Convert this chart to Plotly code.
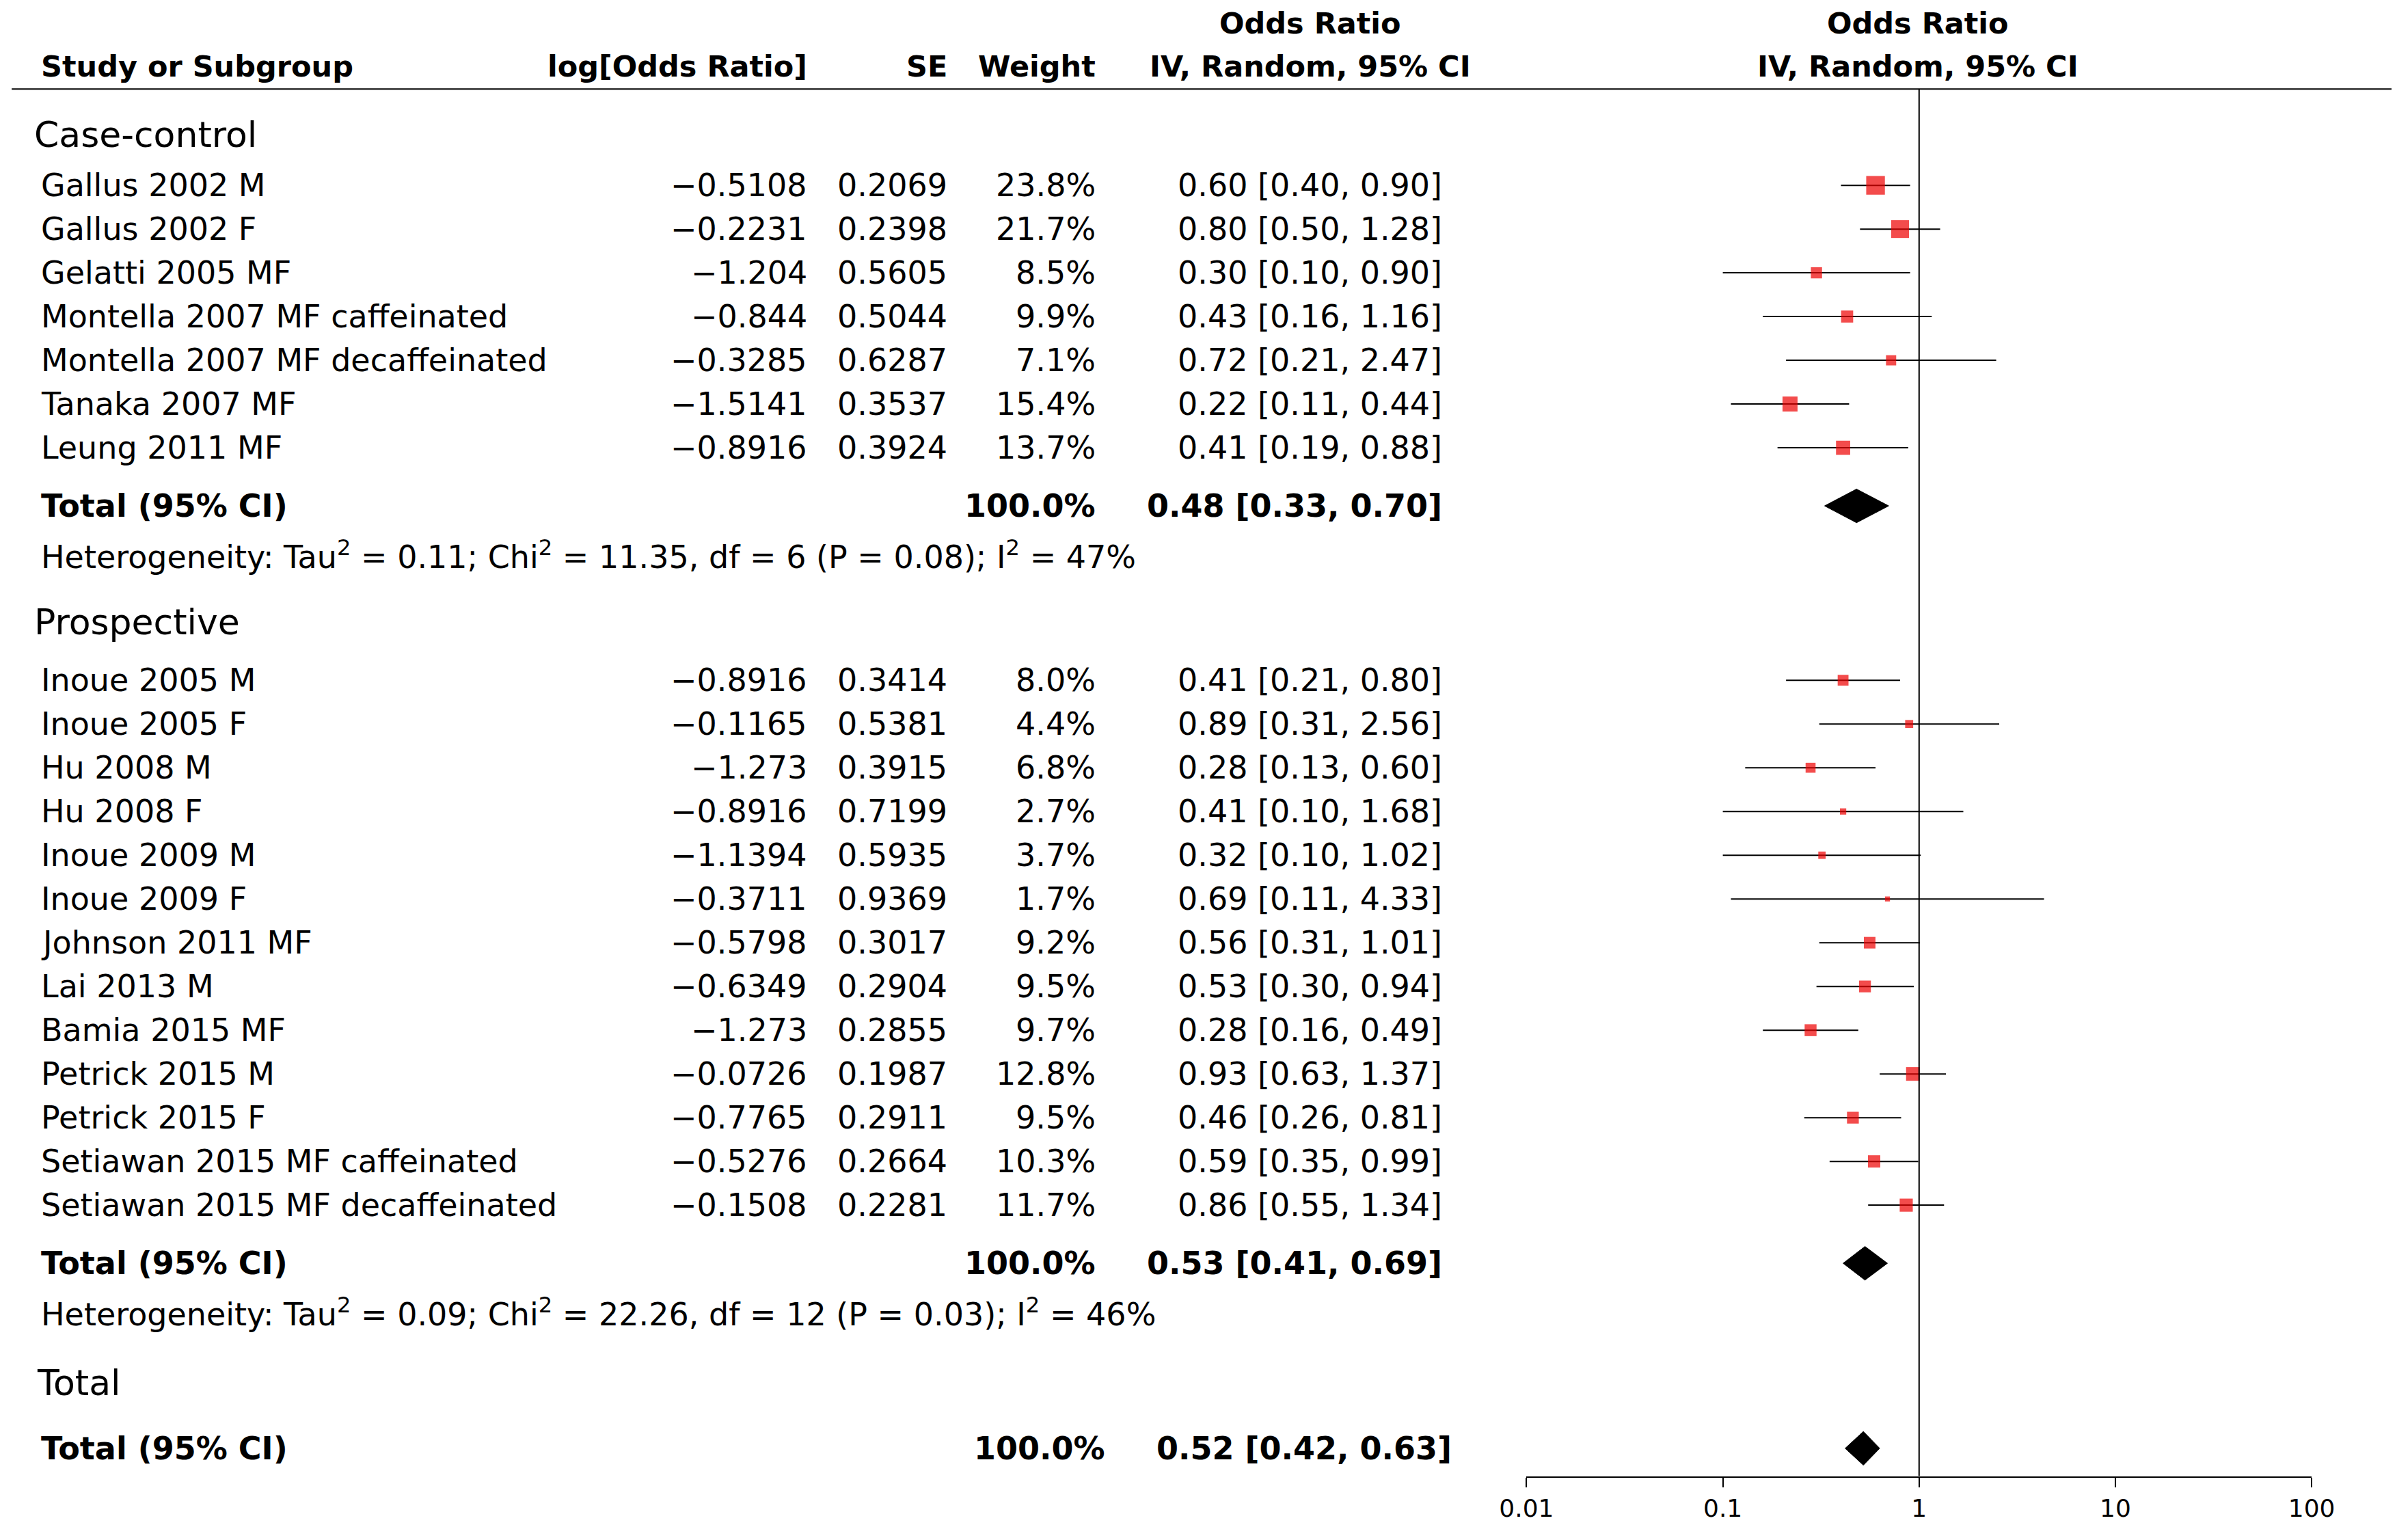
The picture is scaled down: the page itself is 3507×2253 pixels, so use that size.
import plotly.graph_objects as go

# ---------- data ----------
cc_names = ["Gallus 2002 M", "Gallus 2002 F", "Gelatti 2005 MF", "Montella 2007 MF caffeinated",
            "Montella 2007 MF decaffeinated", "Tanaka 2007 MF", "Leung 2011 MF"]
cc_logor = ["-0.5108", "-0.2231", "-1.204", "-0.844", "-0.3285", "-1.5141", "-0.8916"]
cc_se = ["0.2069", "0.2398", "0.5605", "0.5044", "0.6287", "0.3537", "0.3924"]
cc_w = [23.8, 21.7, 8.5, 9.9, 7.1, 15.4, 13.7]
cc_or = [0.60, 0.80, 0.30, 0.43, 0.72, 0.22, 0.41]
cc_lo = [0.40, 0.50, 0.10, 0.16, 0.21, 0.11, 0.19]
cc_hi = [0.90, 1.28, 0.90, 1.16, 2.47, 0.44, 0.88]

pr_names = ["Inoue 2005 M", "Inoue 2005 F", "Hu 2008 M", "Hu 2008 F", "Inoue 2009 M", "Inoue 2009 F",
            "Johnson 2011 MF", "Lai 2013 M", "Bamia 2015 MF", "Petrick 2015 M", "Petrick 2015 F",
            "Setiawan 2015 MF caffeinated", "Setiawan 2015 MF decaffeinated"]
pr_logor = ["-0.8916", "-0.1165", "-1.273", "-0.8916", "-1.1394", "-0.3711", "-0.5798", "-0.6349",
            "-1.273", "-0.0726", "-0.7765", "-0.5276", "-0.1508"]
pr_se = ["0.3414", "0.5381", "0.3915", "0.7199", "0.5935", "0.9369", "0.3017", "0.2904", "0.2855",
         "0.1987", "0.2911", "0.2664", "0.2281"]
pr_w = [8.0, 4.4, 6.8, 2.7, 3.7, 1.7, 9.2, 9.5, 9.7, 12.8, 9.5, 10.3, 11.7]
pr_or = [0.41, 0.89, 0.28, 0.41, 0.32, 0.69, 0.56, 0.53, 0.28, 0.93, 0.46, 0.59, 0.86]
pr_lo = [0.21, 0.31, 0.13, 0.10, 0.10, 0.11, 0.31, 0.30, 0.16, 0.63, 0.26, 0.35, 0.55]
pr_hi = [0.80, 2.56, 0.60, 1.68, 1.02, 4.33, 1.01, 0.94, 0.49, 1.37, 0.81, 0.99, 1.34]

totals_or = [0.48, 0.53, 0.52]
totals_lo = [0.33, 0.41, 0.42]
totals_hi = [0.70, 0.69, 0.63]
het_text = [
    "Heterogeneity: Tau<sup>2</sup> = 0.11; Chi<sup>2</sup> = 11.35, df = 6 (P = 0.08); I<sup>2</sup> = 47%",
    "Heterogeneity: Tau<sup>2</sup> = 0.09; Chi<sup>2</sup> = 22.26, df = 12 (P = 0.03); I<sup>2</sup> = 46%",
    "Heterogeneity: Tau<sup>2</sup> = 0.08; Chi<sup>2</sup> = 33.91, df = 19 (P = 0.02); I<sup>2</sup> = 44%",
]
tick_vals = [0.01, 0.1, 1, 10, 100]
tick_text = ["0.01", "0.1", "1", "10", "100"]

FONT = "DejaVu Sans"
FS = 46
FS_HEAD = 43
FS_GROUP = 52
BLACK = "#000000"
RED = "#ee0000"

# column anchors (paper)
X_NAME = 0.003
X_GROUP = 0.0
X_LOGOR = 0.3307
X_SE = 0.3902
X_W = 0.4536
X_CI = 0.6013
X_HEAD_CI = 0.5444
X_HEAD_FOREST = 0.8033

# row layout (vertical units ~ image px of a 1000-tall view)
STEP = 28.6
y_cc_head = 88
y_cc = [121 + i * STEP for i in range(len(cc_names))]
y_cc_tot = y_cc[-1] + 38
y_cc_het = y_cc_tot + 32
y_pr_head = y_cc_het + 44
y_pr = [y_pr_head + 38 + i * STEP for i in range(len(pr_names))]
y_pr_tot = y_pr[-1] + 38
y_pr_het = y_pr_tot + 32
y_all_head = y_pr_het + 46
y_all_tot = y_all_head + 43
y_all_het = y_all_tot + 32

fig = go.Figure()
ann = []

def txt(x, y, s, anchor="left", bold=False, size=FS):
    if bold:
        s = "<b>" + s + "</b>"
    ann.append(dict(x=x, y=y, xref="paper", yref="y", text=s, showarrow=False,
                    xanchor=anchor, yanchor="middle", font=dict(family=FONT, size=size, color=BLACK)))

# header
txt(X_NAME, 43, "Study or Subgroup", bold=True, size=FS_HEAD)
txt(X_LOGOR, 43, "log[Odds Ratio]", "right", bold=True, size=FS_HEAD)
txt(X_SE, 43, "SE", "right", bold=True, size=FS_HEAD)
txt(X_W, 43, "Weight", "right", bold=True, size=FS_HEAD)
txt(X_HEAD_CI, 15, "Odds Ratio", "center", bold=True, size=FS_HEAD)
txt(X_HEAD_CI, 43, "IV, Random, 95% CI", "center", bold=True, size=FS_HEAD)
txt(X_HEAD_FOREST, 15, "Odds Ratio", "center", bold=True, size=FS_HEAD)
txt(X_HEAD_FOREST, 43, "IV, Random, 95% CI", "center", bold=True, size=FS_HEAD)

def study_rows(names, logor, se, w, orv, lo, hi, ys):
    for n, l, s, ww, o, a, b, y in zip(names, logor, se, w, orv, lo, hi, ys):
        txt(X_NAME, y, n)
        txt(X_LOGOR, y, l.replace("-", "\u2212"), "right")
        txt(X_SE, y, s, "right")
        txt(X_W, y, f"{ww:.1f}%", "right")
        txt(X_CI, y, f"{o:.2f} [{a:.2f}, {b:.2f}]", "right")
        fig.add_trace(go.Scatter(x=[a, b], y=[y, y], mode="lines",
                                 line=dict(color=BLACK, width=2), showlegend=False, hoverinfo="skip"))
    fig.add_trace(go.Scatter(x=orv, y=ys, mode="markers", showlegend=False,
                             marker=dict(symbol="square", color=RED, size=[5.6 * v ** 0.5 for v in w],
                                         line=dict(width=0))))

def total_row(i, y, het_y, extra_x=0.0):
    txt(X_NAME, y, "Total (95% CI)", bold=True)
    txt(X_W + extra_x, y, "100.0%", "right", bold=True)
    txt(X_CI + extra_x, y, f"{totals_or[i]:.2f} [{totals_lo[i]:.2f}, {totals_hi[i]:.2f}]", "right", bold=True)
    txt(X_NAME, het_y, het_text[i])
    h = 11
    fig.add_trace(go.Scatter(x=[totals_lo[i], totals_or[i], totals_hi[i], totals_or[i], totals_lo[i]],
                             y=[y, y - h, y, y + h, y], mode="lines", fill="toself",
                             fillcolor=BLACK, line=dict(color=BLACK, width=1),
                             showlegend=False, hoverinfo="skip"))

txt(X_GROUP, y_cc_head, "Case-control", size=FS_GROUP)
study_rows(cc_names, cc_logor, cc_se, cc_w, cc_or, cc_lo, cc_hi, y_cc)
total_row(0, y_cc_tot, y_cc_het)
txt(X_GROUP, y_pr_head, "Prospective", size=FS_GROUP)
study_rows(pr_names, pr_logor, pr_se, pr_w, pr_or, pr_lo, pr_hi, y_pr)
total_row(1, y_pr_tot, y_pr_het)
txt(0.0013, y_all_head, "Total", size=FS_GROUP)
total_row(2, y_all_tot, y_all_het, extra_x=0.0039)

shapes = [
    dict(type="line", xref="paper", yref="y", x0=-0.009, x1=1.01, y0=58, y1=58,
         line=dict(color=BLACK, width=2)),
    dict(type="line", xref="x", yref="y", x0=1, x1=1, y0=58, y1=965,
         line=dict(color=BLACK, width=2)),
]

fig.update_layout(
    width=3507, height=2253, margin=dict(l=0, r=0, t=0, b=0),
    paper_bgcolor="white", plot_bgcolor="white",
    annotations=ann, shapes=shapes,
    xaxis=dict(type="log", domain=[0.6366, 0.9712], range=[-2, 2], tickvals=tick_vals, ticktext=tick_text,
               showline=True, linecolor=BLACK, linewidth=2, ticks="outside", ticklen=14, tickwidth=2,
               tickcolor=BLACK, showgrid=False, zeroline=False,
               tickfont=dict(family=FONT, size=36, color=BLACK)),
    yaxis=dict(range=[965, 3.4], domain=[0.045, 1], visible=False, showgrid=False),
)

fig.write_html("out.html")
